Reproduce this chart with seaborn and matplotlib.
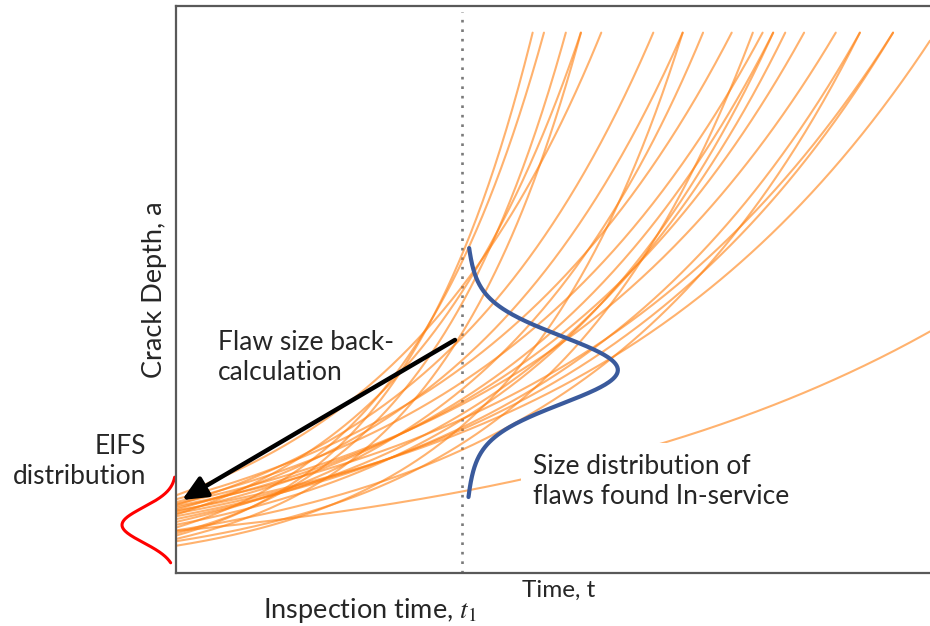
import numpy as np
import pandas as pd
import matplotlib
matplotlib.use("Agg")
import matplotlib.pyplot as plt
import seaborn as sns

# ---------------- data (axes units: time 0..1, crack depth 0..1) ----------------
# crack depth at t = 0 (read on the left axis) for each growth curve
start_depth = [0.066, 0.080, 0.070, 0.103, 0.060, 0.137, 0.120, 0.048,
               0.112, 0.090, 0.130, 0.056, 0.125, 0.085, 0.108, 0.095,
               0.115, 0.122, 0.100, 0.075, 0.118, 0.105, 0.110, 0.074]
# time at which each curve reaches the top of the plot (read on the top edge)
time_to_top = [0.473, 0.488, 0.517, 0.537, 0.537, 0.564, 0.633, 0.672,
               0.672, 0.699, 0.737, 0.765, 0.778, 0.792, 0.792, 0.808,
               0.833, 0.875, 0.907, 0.907, 0.951, 0.951, 1.007, 1.460]
top_depth = 0.953
inspection_time = 0.379

# in-service flaw size distribution at inspection (blue)
insv_center, insv_peak = 0.358, 0.204
insv_sigma_core, insv_sigma_tail, insv_tail_weight = 0.058, 0.123, 0.15
insv_range = (0.134, 0.573)

# EIFS distribution (red), drawn left of the depth axis
eifs_center, eifs_peak, eifs_sigma = 0.0847, 0.0716, 0.031
eifs_range = (0.018, 0.169)

# arrow (back-calculation)
arrow_from = (0.370, 0.411)
arrow_to = (0.008, 0.1287)

# ---------------- build tables ----------------
rows = []
for i, (a0, T) in enumerate(zip(start_depth, time_to_top)):
    t = np.linspace(0, min(T, 1.0), 300)
    a = a0 * (top_depth / a0) ** (t / T)
    rows.append(pd.DataFrame({"t": t, "a": a, "curve": i}))
curves = pd.concat(rows, ignore_index=True)

yb = np.linspace(*insv_range, 300)
d = yb - insv_center
wb = insv_peak * ((1 - insv_tail_weight) * np.exp(-d**2 / (2 * insv_sigma_core**2))
                  + insv_tail_weight * np.exp(-d**2 / (2 * insv_sigma_tail**2)))
blue = pd.DataFrame({"x": inspection_time + 0.003 + wb, "y": yb})

yr = np.linspace(*eifs_range, 200)
wr = eifs_peak * np.exp(-(yr - eifs_center)**2 / (2 * eifs_sigma**2))
red = pd.DataFrame({"x": -wr, "y": yr})

# ---------------- plot ----------------
sns.set_style("white")
plt.rcParams["font.family"] = ["Lato", "DejaVu Sans"]
plt.rcParams["mathtext.fontset"] = "stix"

fig = plt.figure(figsize=(9.30, 6.26), dpi=100)
ax = fig.add_axes([176 / 930, 53 / 626, 754 / 930, 567 / 626])

orange = sns.color_palette()[1]
sns.lineplot(data=curves, x="t", y="a", units="curve", estimator=None,
             color=orange, alpha=0.6, linewidth=1.5, ax=ax, legend=False)

ax.axvline(inspection_time, ymin=0, ymax=0.99, color="#7a7a7a",
           ls=(0, (1, 2.6)), lw=1.9, zorder=1)

sns.lineplot(data=blue, x="x", y="y", sort=False, estimator=None,
             color="#3A5A9C", linewidth=3.0, ax=ax)
sns.lineplot(data=red, x="x", y="y", sort=False, estimator=None,
             color="#FF0000", linewidth=2.2, ax=ax)
for line in ax.lines[-1:]:
    line.set_clip_on(False)

ax.annotate("", xy=arrow_to, xytext=arrow_from,
            arrowprops=dict(arrowstyle="-|>,head_length=0.75,head_width=0.34",
                            mutation_scale=20, lw=3.2, color="black",
                            shrinkA=0, shrinkB=0), zorder=5)

ax.set_xlim(0, 1)
ax.set_ylim(0, 1)
ax.set_xticks([])
ax.set_yticks([])
for side in ["left", "top", "bottom"]:
    ax.spines[side].set_color("#595959")
    ax.spines[side].set_linewidth(1.6)
ax.spines["right"].set_visible(False)

txt = "#262626"
ax.set_ylabel("Crack Depth, a", fontsize=19.5, color=txt)
ax.yaxis.set_label_coords(-0.012, 0.499)
ax.set_xlabel("Time, t", fontsize=17.5, color=txt)
ax.xaxis.set_label_coords(0.508, -0.012)
ax.xaxis.label.set_va("top")

ax.text(0.257, -0.040, "Inspection time, $t_1$", fontsize=19.5, color=txt,
        ha="center", va="top", transform=ax.transAxes)
ax.text(0.0557, 0.428, "Flaw size back-\ncalculation", fontsize=19,
        color=txt, ha="left", va="top", linespacing=1.25)
ax.text(-0.04, 0.245, "EIFS\ndistribution", fontsize=19, color=txt,
        ha="right", va="top", multialignment="right", linespacing=1.25,
        clip_on=False)
ax.text(0.4735, 0.209, "Size distribution of\nflaws found In-service",
        fontsize=19, color=txt, ha="left", va="top", linespacing=1.25,
        bbox=dict(boxstyle="square,pad=0.45", fc="white", ec="none"),
        zorder=4)

fig.savefig("out.png", dpi=100)
